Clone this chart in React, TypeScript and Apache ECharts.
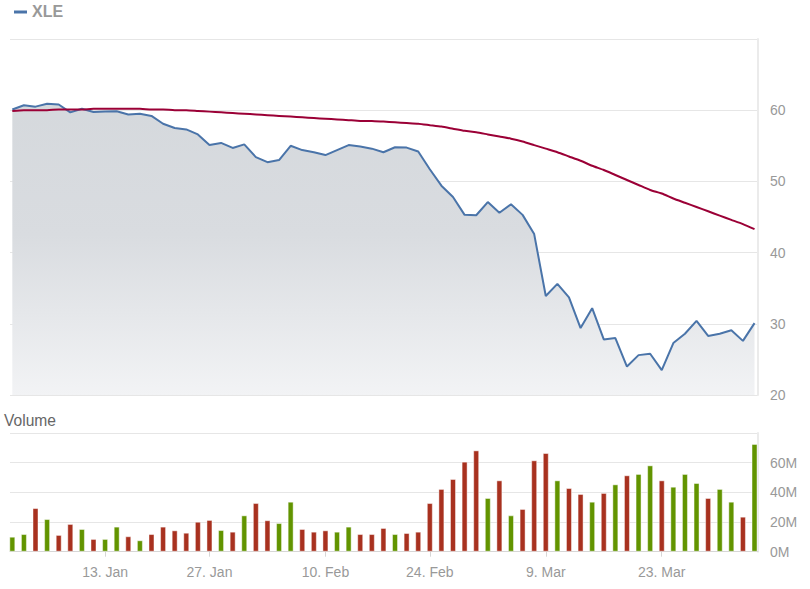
import React, { useEffect, useRef } from "react";
import * as echarts from "echarts";

// Trading days shown on the chart (ordinal axis)
const dates: string[] = [
  "2019-12-31",
  "2020-01-02", "2020-01-03",
  "2020-01-06", "2020-01-07", "2020-01-08", "2020-01-09", "2020-01-10",
  "2020-01-13", "2020-01-14", "2020-01-15", "2020-01-16", "2020-01-17",
  "2020-01-21", "2020-01-22", "2020-01-23", "2020-01-24",
  "2020-01-27", "2020-01-28", "2020-01-29", "2020-01-30", "2020-01-31",
  "2020-02-03", "2020-02-04", "2020-02-05", "2020-02-06", "2020-02-07",
  "2020-02-10", "2020-02-11", "2020-02-12", "2020-02-13", "2020-02-14",
  "2020-02-18", "2020-02-19", "2020-02-20", "2020-02-21",
  "2020-02-24", "2020-02-25", "2020-02-26", "2020-02-27", "2020-02-28",
  "2020-03-02", "2020-03-03", "2020-03-04", "2020-03-05", "2020-03-06",
  "2020-03-09", "2020-03-10", "2020-03-11", "2020-03-12", "2020-03-13",
  "2020-03-16", "2020-03-17", "2020-03-18", "2020-03-19", "2020-03-20",
  "2020-03-23", "2020-03-24", "2020-03-25", "2020-03-26", "2020-03-27",
  "2020-03-30", "2020-03-31",
  "2020-04-01", "2020-04-02",
];

// XLE close
const price: number[] = [
  60.1, 60.7, 60.5, 60.9, 60.8, 59.7, 60.2, 59.75, 59.8, 59.85,
  59.4, 59.5, 59.2, 58.1, 57.5, 57.3, 56.6, 55.1, 55.4, 54.7,
  55.2, 53.4, 52.7, 53.0, 55.0, 54.4, 54.1, 53.7, 54.4, 55.1,
  54.9, 54.6, 54.1, 54.8, 54.75, 54.2, 51.7, 49.4, 47.8, 45.3,
  45.25, 47.1, 45.6, 46.8, 45.3, 42.6, 33.9, 35.6, 33.7, 29.4,
  32.2, 27.8, 28.0, 24.0, 25.6, 25.8, 23.5, 27.3, 28.6, 30.4,
  28.3, 28.6, 29.1, 27.6, 30.1,
];

// Moving average
const movingAvg: number[] = [
  59.9, 60.0, 60.0, 60.0, 60.1, 60.1, 60.1, 60.2, 60.2, 60.2,
  60.2, 60.2, 60.1, 60.1, 60.0, 60.0, 59.9, 59.8, 59.7, 59.6,
  59.5, 59.4, 59.3, 59.2, 59.1, 59.0, 58.9, 58.8, 58.7, 58.6,
  58.5, 58.5, 58.4, 58.3, 58.2, 58.1, 57.9, 57.7, 57.4, 57.1,
  56.9, 56.6, 56.3, 56.0, 55.6, 55.1, 54.6, 54.1, 53.5, 52.9,
  52.2, 51.6, 50.9, 50.2, 49.5, 48.8, 48.3, 47.6, 47.0, 46.4,
  45.8, 45.2, 44.6, 44.0, 43.3,
];

// Volume in millions
const volume: number[] = [
  10.1, 11.9, 29.4, 22.0, 11.3, 18.7, 15.3, 8.6, 8.6, 16.9,
  10.4, 7.7, 11.9, 16.9, 14.4, 12.8, 20.2, 21.4, 14.6, 13.5,
  24.5, 32.8, 21.2, 19.3, 33.7, 15.3, 13.5, 14.4, 13.5, 16.9,
  11.9, 11.9, 16.0, 11.9, 12.6, 13.5, 32.8, 42.3, 49.0, 60.7,
  68.3, 36.2, 48.1, 24.5, 28.8, 61.6, 66.5, 48.1, 42.9, 38.9,
  33.7, 39.6, 45.4, 51.5, 52.4, 58.2, 48.1, 43.8, 52.4, 46.3,
  36.2, 42.3, 33.7, 23.6, 72.6,
];

// 1 = up day (green), 0 = down day (red)
const upDay: number[] = [
  1, 1, 0, 1, 0, 0, 1, 0, 1, 1,
  0, 1, 0, 0, 0, 0, 0, 0, 1, 0,
  1, 0, 0, 1, 1, 0, 0, 0, 1, 1,
  0, 0, 0, 1, 0, 0, 0, 0, 0, 0,
  0, 1, 0, 1, 0, 0, 0, 1, 0, 0,
  1, 0, 1, 0, 1, 1, 0, 1, 1, 1,
  0, 1, 1, 0, 1,
];

const tickDates: string[] = ["2020-01-13", "2020-01-27", "2020-02-10", "2020-02-24", "2020-03-09", "2020-03-23"];
const tickLabels: string[] = ["13. Jan", "27. Jan", "10. Feb", "24. Feb", "9. Mar", "23. Mar"];

const FONT = "'Liberation Sans', Arial, Helvetica, sans-serif";

export default function App() {
  const ref = useRef<HTMLDivElement>(null);

  useEffect(() => {
    if (!ref.current) return;
    const chart = echarts.init(ref.current, undefined, { renderer: "svg" });

    const tickIdx = tickDates.map((d) => dates.indexOf(d));
    const labelFor = (v: number) => {
      const k = tickIdx.indexOf(Math.round(v));
      return k >= 0 ? tickLabels[k] : "";
    };

    const GREEN = "#629400";
    const RED = "#a8311f";
    const gridLine = "#e6e6e6";
    const labelColor = "#999999";

    const xMin = -0.2;
    const xMax = 64.3;

    const option: any = {
      animation: false,
      grid: [
        { left: 10, top: 39, width: 748, height: 356 },
        { left: 10, top: 433, width: 748, height: 118.7 },
      ],
      xAxis: [
        {
          type: "value",
          gridIndex: 0,
          min: xMin,
          max: xMax,
          show: false,
          splitLine: { show: false },
        },
        {
          type: "value",
          gridIndex: 1,
          min: xMin,
          max: xMax,
          splitLine: { show: false },
          axisLine: { show: true, onZero: false, lineStyle: { color: "#d6d6d6", width: 1 } },
          axisTick: {
            show: true,
            length: 5,
            customValues: tickIdx,
            lineStyle: { color: "#d6d6d6" },
          },
          axisLabel: {
            customValues: tickIdx,
            formatter: (v: number) => labelFor(v),
            color: labelColor,
            fontSize: 14,
            fontFamily: FONT,
            margin: 13,
          },
        },
      ],
      yAxis: [
        {
          type: "value",
          gridIndex: 0,
          position: "right",
          min: 20,
          max: 70,
          interval: 10,
          axisLine: { show: true, onZero: false, lineStyle: { color: "#ebebeb", width: 2 } },
          axisTick: { show: false },
          splitLine: { show: true, lineStyle: { color: gridLine, width: 1 } },
          axisLabel: {
            showMaxLabel: false,
            color: labelColor,
            fontSize: 14,
            fontFamily: FONT,
            margin: 12,
            align: "left",
          },
        },
        {
          type: "value",
          gridIndex: 1,
          position: "right",
          min: 0,
          max: 80,
          interval: 20,
          axisLine: { show: true, onZero: false, lineStyle: { color: "#ebebeb", width: 2 } },
          axisTick: { show: false },
          splitLine: { show: true, lineStyle: { color: gridLine, width: 1 } },
          axisLabel: {
            showMaxLabel: false,
            formatter: "{value}M",
            color: labelColor,
            fontSize: 14,
            fontFamily: FONT,
            margin: 12,
            align: "left",
            padding: [0, 0, 10, 0],
          },
        },
      ],
      series: [
        {
          name: "XLE",
          type: "line",
          xAxisIndex: 0,
          yAxisIndex: 0,
          data: price.map((v, i) => [i, v]),
          showSymbol: false,
          lineStyle: { color: "#4a74a9", width: 2 },
          itemStyle: { color: "#4a74a9" },
          areaStyle: {
            origin: "start",
            color: new echarts.graphic.LinearGradient(
              0, 39, 0, 395,
              [
                { offset: 0, color: "#d3d7db" },
                { offset: 0.55, color: "#d9dce0" },
                { offset: 1, color: "#f2f3f5" },
              ],
              true
            ),
            opacity: 1,
          },
          z: 2,
        },
        {
          name: "MA",
          type: "line",
          xAxisIndex: 0,
          yAxisIndex: 0,
          data: movingAvg.map((v, i) => [i, v]),
          showSymbol: false,
          smooth: 0.2,
          lineStyle: { color: "#9b0036", width: 2 },
          itemStyle: { color: "#9b0036" },
          z: 3,
        },
        {
          name: "Volume",
          type: "bar",
          xAxisIndex: 1,
          yAxisIndex: 1,
          barWidth: 6,
          data: volume.map((v, i) => ({
            value: [i, v],
            itemStyle: {
              color: upDay[i] ? GREEN : RED,
              borderColor: "rgba(255,255,255,0.45)",
              borderWidth: 1,
            },
          })),
        },
      ],
      graphic: [
        {
          type: "line",
          shape: { x1: 14, y1: 12, x2: 27, y2: 12 },
          style: { stroke: "#4a74a9", lineWidth: 3 },
        },
        {
          type: "text",
          left: 32,
          top: 3,
          style: {
            text: "XLE",
            fill: "#999999",
            font: `bold 16px ${FONT}`,
          },
        },
        {
          type: "text",
          left: 4,
          top: 412,
          style: {
            text: "Volume",
            fill: "#666666",
            font: `15.6px ${FONT}`,
          },
        },
      ],
    };

    chart.setOption(option);
    return () => chart.dispose();
  }, []);

  return (
    <div
      ref={ref}
      style={{ position: "absolute", left: 0, top: 0, width: 810, height: 589 }}
    />
  );
}
